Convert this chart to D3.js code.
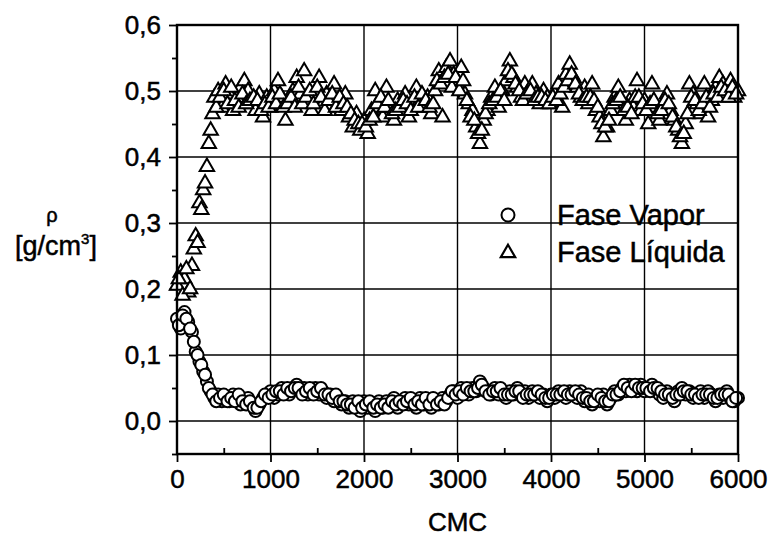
<!DOCTYPE html>
<html>
<head>
<meta charset="utf-8">
<script src="https://cdn.jsdelivr.net/npm/d3@7"></script>
<style>
  body { margin: 0; background: #fff; }
  text { font-family: "Liberation Sans", Arial, sans-serif; fill: #000; stroke: #000; stroke-width: 0.5px; }
</style>
</head>
<body>
<svg></svg>
<script>
let width = 772,
    height = 538;

// CMC sampling step (x values); second runs are offset by half a step
let cmcStep = 40,
    cmcOffset = 20;

// vapour phase density, at 0, 40, 80 ...
let vapor = [
  0.155,0.14,0.165,0.15,0.135,0.105,0.09,0.075,0.06,0.045,
  0.035,0.04,0.03,0.035,0.03,0.04,0.035,0.025,0.03,0.035,
  0.025,0.015,0.025,0.035,0.04,0.045,0.035,0.04,0.05,0.045,
  0.04,0.05,0.055,0.045,0.05,0.04,0.045,0.05,0.04,0.045,
  0.035,0.04,0.03,0.035,0.025,0.03,0.02,0.03,0.025,0.015,
  0.03,0.02,0.025,0.015,0.03,0.02,0.03,0.025,0.035,0.02,
  0.03,0.035,0.025,0.03,0.02,0.035,0.025,0.03,0.02,0.03,
  0.025,0.035,0.03,0.04,0.045,0.035,0.05,0.045,0.04,0.05,
  0.045,0.06,0.05,0.045,0.04,0.05,0.04,0.045,0.035,0.045,
  0.04,0.05,0.04,0.045,0.035,0.045,0.04,0.035,0.04,0.03,
  0.04,0.035,0.045,0.04,0.035,0.045,0.04,0.035,0.045,0.03,
  0.04,0.025,0.035,0.03,0.04,0.025,0.035,0.045,0.04,0.05,
  0.045,0.055,0.05,0.045,0.055,0.045,0.05,0.055,0.045,0.04,
  0.035,0.045,0.04,0.03,0.045,0.05,0.04,0.045,0.035,0.04,
  0.045,0.035,0.045,0.04,0.03,0.04,0.035,0.045,0.035,0.03,
  0.035
]
// vapour phase density, at 20, 60, 100 ...
let vapor2 = [
  0.145,0.16,0.155,0.14,0.12,0.1,0.085,0.07,0.05,0.04,
  0.03,0.035,0.04,0.03,0.035,0.03,0.04,0.03,0.025,0.03,
  0.02,0.02,0.03,0.04,0.035,0.04,0.045,0.045,0.04,0.05,
  0.045,0.05,0.05,0.04,0.045,0.05,0.04,0.045,0.05,0.04,
  0.04,0.035,0.04,0.03,0.03,0.025,0.025,0.02,0.03,0.02,
  0.025,0.03,0.02,0.025,0.02,0.025,0.02,0.03,0.025,0.03,
  0.025,0.03,0.035,0.025,0.03,0.025,0.035,0.025,0.035,0.025,
  0.03,0.025,0.035,0.045,0.04,0.045,0.04,0.05,0.045,0.045,
  0.05,0.055,0.045,0.04,0.045,0.045,0.05,0.04,0.04,0.04,
  0.045,0.045,0.035,0.04,0.04,0.04,0.045,0.04,0.035,0.035,
  0.04,0.04,0.04,0.045,0.04,0.04,0.045,0.04,0.035,0.035,
  0.03,0.03,0.04,0.035,0.03,0.03,0.04,0.04,0.045,0.055,
  0.05,0.045,0.055,0.05,0.05,0.05,0.045,0.05,0.05,0.045,
  0.04,0.04,0.035,0.04,0.04,0.045,0.045,0.04,0.04,0.035,
  0.04,0.04,0.04,0.035,0.035,0.04,0.04,0.04,0.03,0.035
]

// liquid phase density, at 0, 40, 80 ...
let liquid = [
  0.205,0.225,0.215,0.195,0.235,0.28,0.33,0.35,0.385,0.44,
  0.49,0.50,0.475,0.51,0.495,0.47,0.49,0.505,0.515,0.50,
  0.48,0.47,0.495,0.46,0.49,0.475,0.50,0.515,0.49,0.455,
  0.48,0.50,0.52,0.495,0.53,0.485,0.47,0.495,0.52,0.48,
  0.495,0.475,0.51,0.48,0.47,0.495,0.46,0.445,0.465,0.44,
  0.455,0.435,0.47,0.50,0.475,0.46,0.505,0.475,0.455,0.485,
  0.47,0.495,0.46,0.48,0.505,0.485,0.475,0.49,0.465,0.50,
  0.53,0.46,0.535,0.545,0.525,0.51,0.535,0.495,0.48,0.47,
  0.445,0.42,0.455,0.47,0.49,0.505,0.475,0.50,0.515,0.545,
  0.52,0.505,0.49,0.51,0.485,0.51,0.495,0.48,0.50,0.49,
  0.48,0.495,0.51,0.475,0.525,0.54,0.52,0.505,0.49,0.505,
  0.48,0.51,0.47,0.46,0.43,0.445,0.47,0.49,0.505,0.48,
  0.455,0.485,0.475,0.515,0.47,0.485,0.45,0.51,0.475,0.455,
  0.48,0.495,0.47,0.455,0.44,0.42,0.45,0.51,0.495,0.48,
  0.465,0.51,0.46,0.485,0.505,0.52,0.51,0.495,0.515,0.49,
  0.50
]
// liquid phase density, at 20, 60, 100 ...
let liquid2 = [
  0.215,0.19,0.23,0.2,0.26,0.27,0.32,0.36,0.42,0.465,
  0.475,0.49,0.5,0.48,0.505,0.485,0.475,0.495,0.48,0.485,
  0.49,0.485,0.47,0.48,0.475,0.49,0.48,0.495,0.475,0.48,
  0.49,0.475,0.505,0.48,0.49,0.5,0.48,0.505,0.49,0.47,
  0.485,0.495,0.475,0.49,0.48,0.475,0.465,0.455,0.45,0.45,
  0.445,0.455,0.46,0.48,0.49,0.475,0.485,0.465,0.47,0.475,
  0.485,0.48,0.47,0.49,0.475,0.495,0.485,0.475,0.48,0.515,
  0.51,0.52,0.525,0.505,0.52,0.5,0.515,0.485,0.46,0.455,
  0.435,0.44,0.465,0.48,0.485,0.49,0.5,0.485,0.53,0.525,
  0.51,0.5,0.485,0.495,0.5,0.485,0.49,0.49,0.485,0.48,
  0.49,0.485,0.495,0.505,0.515,0.525,0.51,0.495,0.485,0.49,
  0.49,0.485,0.475,0.45,0.445,0.455,0.48,0.485,0.49,0.47,
  0.475,0.465,0.49,0.49,0.48,0.47,0.48,0.485,0.465,0.47,
  0.485,0.48,0.46,0.445,0.43,0.435,0.465,0.49,0.485,0.47,
  0.48,0.49,0.475,0.495,0.49,0.505,0.5,0.49,0.505,0.495
]

let xTicks = [0, 1000, 2000, 3000, 4000, 5000, 6000]
let yTicks = [0, 0.1, 0.2, 0.3, 0.4, 0.5, 0.6]
let legendLabels = ['Fase Vapor', 'Fase Líquida']

let toPoints = (a, b) => a.map((v, i) => ({c: i * cmcStep, v: v}))
                         .concat(b.map((v, i) => ({c: cmcOffset + i * cmcStep, v: v})))
let vaporPts = toPoints(vapor, vapor2),
    liquidPts = toPoints(liquid, liquid2)

let svg = d3.select('svg')
            .attr('width', width)
            .attr('height', height)

//x scale
let xScale = d3.scaleLinear()
      .domain([0, 6000])
      .range([177, 738])

//y scale
let yScale = d3.scaleLinear()
      .domain([-0.05, 0.6])
      .range([454, 25])

let fmt = d => d3.format('.1f')(d).replace('.', ',')

// grid
let grid = svg.append('g')
grid.selectAll('.vg')
    .data(xTicks.slice(1, -1))
    .enter().append('line')
    .attr('x1', d => xScale(d)).attr('x2', d => xScale(d))
    .attr('y1', yScale(0.6)).attr('y2', yScale(-0.05))
    .attr('stroke', '#000').attr('stroke-width', 1.4)
grid.selectAll('.hg')
    .data(yTicks.slice(0, -1))
    .enter().append('line')
    .attr('y1', d => yScale(d)).attr('y2', d => yScale(d))
    .attr('x1', xScale(0)).attr('x2', xScale(6000))
    .attr('stroke', '#000').attr('stroke-width', 1.4)

// axes
let xAxis = d3.axisBottom(xScale)
              .tickValues(xTicks)
              .tickSize(8)
              .tickPadding(8)
              .tickFormat(d3.format('d'))
let xMinor = d3.axisBottom(xScale)
              .tickValues(d3.range(500, 6000, 1000))
              .tickSize(-6)
              .tickFormat('')
let yAxis = d3.axisLeft(yScale)
              .tickValues(yTicks)
              .tickSize(8)
              .tickPadding(8)
              .tickFormat(fmt)
let yMinor = d3.axisLeft(yScale)
              .tickValues([-0.05, 0.05, 0.15, 0.25, 0.35, 0.45, 0.55])
              .tickSize(5)
              .tickFormat('')

function styleAxis(g) {
  g.select('.domain').remove()
  g.selectAll('line').attr('stroke', '#000').attr('stroke-width', 1.8)
  g.selectAll('text').style('font-size', '26px').attr('fill', '#000')
}

svg.append('g').attr('transform', 'translate(0,' + yScale(-0.05) + ')').call(xAxis).call(styleAxis)
svg.append('g').attr('transform', 'translate(0,' + yScale(-0.05) + ')').call(xMinor).call(styleAxis)
svg.append('g').attr('transform', 'translate(' + xScale(0) + ',0)').call(yAxis).call(styleAxis)
svg.append('g').attr('transform', 'translate(' + xScale(0) + ',0)').call(yMinor).call(styleAxis)

// markers
let tri = d3.symbol().type(d3.symbolTriangle).size(90)

svg.append('g').selectAll('path')
   .data(liquidPts)
   .enter().append('path')
   .attr('d', tri)
   .attr('transform', d => 'translate(' + xScale(d.c) + ',' + yScale(d.v) + ')')
   .attr('fill', '#fff')
   .attr('stroke', '#000')
   .attr('stroke-width', 2)

svg.append('g').selectAll('circle')
   .data(vaporPts)
   .enter().append('circle')
   .attr('cx', d => xScale(d.c))
   .attr('cy', d => yScale(d.v))
   .attr('r', 6)
   .attr('fill', '#fff')
   .attr('stroke', '#000')
   .attr('stroke-width', 2)

// frame
svg.append('rect')
   .attr('x', xScale(0)).attr('y', yScale(0.6))
   .attr('width', xScale(6000) - xScale(0))
   .attr('height', yScale(-0.05) - yScale(0.6))
   .attr('fill', 'none').attr('stroke', '#000').attr('stroke-width', 2.4)

// legend
let legend = svg.append('g')
legend.append('circle').attr('cx', 508).attr('cy', 215).attr('r', 6.5)
      .attr('fill', '#fff').attr('stroke', '#000').attr('stroke-width', 2)
legend.append('path').attr('d', tri).attr('transform', 'translate(508,253)')
      .attr('fill', '#fff').attr('stroke', '#000').attr('stroke-width', 2.2)
legend.selectAll('text')
      .data(legendLabels)
      .enter().append('text')
      .attr('x', 557)
      .attr('y', (d, i) => 225 + i * 37)
      .style('font-size', '29px')
      .text(d => d)

// axis titles
svg.append('text').attr('x', xScale(3000)).attr('y', 531)
   .attr('text-anchor', 'middle').style('font-size', '26px').text('CMC')

svg.append('text').attr('text-anchor', 'middle')
   .attr('x', 52).attr('y', 222).style('font-size', '20px').text('ρ')
let yt2 = svg.append('text').attr('x', 56).attr('y', 255)
   .attr('text-anchor', 'middle').style('font-size', '27px')
yt2.append('tspan').text('[g/cm')
yt2.append('tspan').attr('dy', -11).style('font-size', '15px').text('3')
yt2.append('tspan').attr('dy', 11).text(']')
</script>
</body>
</html>
